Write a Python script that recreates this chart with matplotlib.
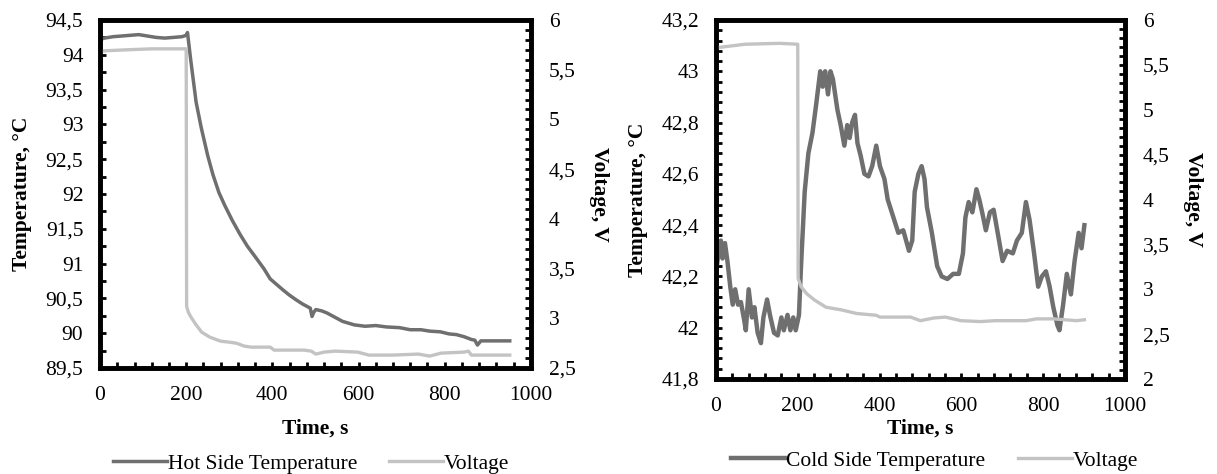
import matplotlib.pyplot as plt
from matplotlib.ticker import MultipleLocator, AutoMinorLocator, FuncFormatter

plt.rcParams['font.family'] = ['Liberation Serif', 'DejaVu Serif']
plt.rcParams['font.size'] = 15.5

# hot side
t_hot = [0, 10, 30, 50, 70, 90, 110, 130, 150, 170, 190, 200, 203, 210, 223, 235, 250, 262, 276, 290,
         307, 325, 342, 360, 380, 395, 410, 425, 439, 455, 470, 488, 492, 496, 501, 515, 527, 545, 563, 590,
         615, 640, 665, 695, 720, 745, 765, 790, 810, 827, 845, 862, 870, 876, 884, 910, 951]
temp_hot = [94.22, 94.24, 94.26, 94.27, 94.28, 94.29, 94.27, 94.25, 94.24, 94.25, 94.26, 94.28, 94.32, 93.95,
            93.32, 92.95, 92.55, 92.28, 92.02, 91.83, 91.62, 91.42, 91.25, 91.10, 90.93, 90.78, 90.70, 90.62,
            90.55, 90.48, 90.42, 90.36, 90.24, 90.30, 90.34, 90.32, 90.29, 90.23, 90.17, 90.12, 90.10, 90.11,
            90.09, 90.08, 90.05, 90.05, 90.03, 90.02, 89.99, 89.98, 89.95, 89.91, 89.90, 89.83, 89.89, 89.89, 89.89]
t_vhot = [0, 10, 60, 120, 200, 201, 205, 210, 222, 236, 255, 280, 300, 316, 335, 351, 395, 404, 474, 490,
          501, 520, 545, 598, 624, 680, 739, 765, 792, 845, 855, 862, 951]
volt_hot = [5.68, 5.69, 5.70, 5.71, 5.71, 3.12, 3.06, 3.02, 2.94, 2.86, 2.81, 2.77, 2.76, 2.75, 2.72, 2.71,
            2.71, 2.68, 2.68, 2.67, 2.64, 2.66, 2.67, 2.66, 2.63, 2.63, 2.64, 2.62, 2.65, 2.66, 2.67, 2.63, 2.63]

# cold side
t_cold = [3, 6, 12, 16, 22, 28, 35, 41, 47, 54, 61, 69, 73, 80, 88, 94, 102, 110, 116, 125,
          132, 142, 151, 160, 166, 175, 182, 189, 195, 203, 208, 217, 226, 236, 245, 255, 261, 267, 274, 280,
          286, 297, 305, 314, 321, 327, 333, 340, 346, 354, 363, 373, 382, 392, 401, 412, 420, 434, 446, 458,
          472, 480, 486, 495, 503, 510, 516, 528, 541, 552, 566, 580, 594, 604, 610, 618, 627, 637, 644, 651,
          660, 670, 679, 689, 701, 712, 726, 736, 748, 758, 767, 778, 788, 797, 807, 816, 825, 835, 840, 849,
          858, 868, 877, 887, 894, 901]
temp_cold = [42.25, 42.29, 42.34, 42.27, 42.33, 42.26, 42.16, 42.09, 42.15, 42.09, 42.10, 42.03, 41.99, 42.15,
             42.04, 42.08, 41.98, 41.94, 42.04, 42.11, 42.05, 41.98, 41.97, 42.04, 41.99, 42.05, 41.99, 42.04,
             41.99, 42.05, 42.24, 42.53, 42.68, 42.76, 42.87, 43.00, 42.94, 43.00, 42.91, 43.00, 42.97, 42.85,
             42.79, 42.71, 42.79, 42.74, 42.80, 42.83, 42.72, 42.67, 42.60, 42.59, 42.63, 42.71, 42.63, 42.58,
             42.50, 42.43, 42.37, 42.38, 42.30, 42.34, 42.53, 42.60, 42.63, 42.58, 42.47, 42.37, 42.24, 42.20,
             42.19, 42.21, 42.21, 42.29, 42.43, 42.49, 42.45, 42.54, 42.50, 42.45, 42.38, 42.45, 42.46, 42.37,
             42.26, 42.30, 42.29, 42.34, 42.37, 42.49, 42.42, 42.29, 42.16, 42.20, 42.22, 42.16, 42.08, 42.01,
             41.99, 42.09, 42.21, 42.13, 42.26, 42.37, 42.31, 42.40]
t_vcold = [0, 71, 156, 200, 201, 208, 222, 241, 269, 307, 344, 392, 401, 476, 500, 533, 561, 599, 646, 684,
           759, 783, 825, 882, 901]
volt_cold = [5.69, 5.73, 5.74, 5.73, 3.12, 3.03, 2.95, 2.88, 2.80, 2.77, 2.73, 2.71, 2.69, 2.69, 2.65, 2.68,
             2.69, 2.65, 2.64, 2.65, 2.65, 2.67, 2.67, 2.65, 2.66]

dark = '#6f6f6f'
light = '#c3c3c3'
comma = FuncFormatter(lambda v, p: f'{v:g}'.replace('.', ','))

fig = plt.figure(figsize=(12.17, 4.74), dpi=100)


def panel(rect, t, temp, tv, volt, ylim, ymaj, yminor, vlim, label, lw, leg_xy, xpad):
    ax = fig.add_axes(rect)
    ax2 = ax.twinx()
    l1, = ax.plot(t, temp, color=dark, lw=lw, label=label)
    l2, = ax2.plot(tv, volt, color=light, lw=2.4, label='Voltage')
    ax.set_xlim(0, 1000)
    ax.set_ylim(*ylim)
    ax2.set_ylim(*vlim)
    ax.xaxis.set_major_locator(MultipleLocator(200))
    ax.xaxis.set_minor_locator(AutoMinorLocator(5))
    ax.yaxis.set_major_locator(MultipleLocator(ymaj))
    ax.yaxis.set_minor_locator(AutoMinorLocator(yminor))
    ax2.yaxis.set_major_locator(MultipleLocator(0.5))
    ax2.yaxis.set_minor_locator(AutoMinorLocator(5))
    for a in (ax, ax2):
        a.yaxis.set_major_formatter(comma)
        for s in a.spines.values():
            s.set_linewidth(3.3)
        a.tick_params(which='both', direction='in', width=2, length=4, top=False)
    ax.tick_params(which='both', right=False)
    ax.tick_params(axis='y', pad=12)
    ax.tick_params(axis='x', pad=13)
    ax2.tick_params(axis='y', pad=13)
    ax.set_xlabel('Time, s', fontweight='bold', labelpad=xpad)
    ax.set_ylabel('Temperature, °C', fontweight='bold', labelpad=10)
    ax2.set_ylabel('Voltage, V', fontweight='bold', rotation=270, labelpad=24)
    ax.legend(handles=[l1, l2], loc='center', bbox_to_anchor=leg_xy, ncol=2, frameon=False,
              handlelength=2.5, columnspacing=1.5, handletextpad=0.05, fontsize=15.5)


panel([0.0822, 0.2236, 0.354, 0.7342], t_hot, temp_hot, t_vhot, volt_hot,
      (89.5, 94.5), 0.5, 2, (2.5, 6), 'Hot Side Temperature', 2.5, (0.49, -0.275), 10)
panel([0.5883, 0.2004, 0.336, 0.7574], t_cold, temp_cold, t_vcold, volt_cold,
      (41.8, 43.2), 0.2, 5, (2, 6), 'Cold Side Temperature', 3.2, (0.535, -0.228), 2)

fig.savefig('out.png', dpi=100)
